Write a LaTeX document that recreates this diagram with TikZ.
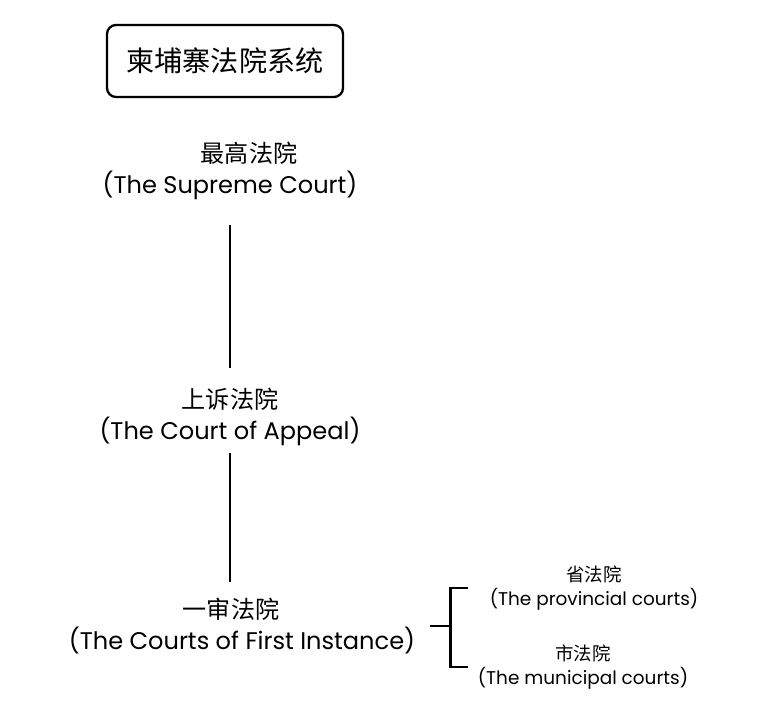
\documentclass[tikz,border=0pt]{standalone}
\usepackage{fontspec}
\setmainfont{Poppins}
\newfontfamily\cjk{Noto Sans CJK SC}
\usepackage{tikz}
\usetikzlibrary{positioning,calc}

\begin{document}
\begin{tikzpicture}[node distance=1.4cm,on grid]
\tikzstyle{court}=[align=center, font=\fontsize{13.7}{18}\selectfont]
\tikzstyle{sub}=[align=center, font=\fontsize{10.5}{14}\selectfont]
\tikzstyle{link}=[line width=1.7pt]
\useasboundingbox (0,0) rectangle (15.16,14.4);
\node[draw, line width=1.3pt, rounded corners=0.18cm, minimum width=4.72cm, minimum height=1.44cm, font=\fontsize{16}{18}\selectfont] (title) at (4.5,13.18) {\cjk 柬埔寨法院系统};
\node[court, below right=2.2cm and 0.1cm of title] (sup) {\hspace*{0.76cm}{\cjk 最高法院}\\(The Supreme Court)};
\node[court, below=4.92cm of sup] (app) {{\cjk 上诉法院}\\(The Court of Appeal)};
\node[court, below right=4.18cm and 0.24cm of app] (inst) {{\cjk 一审法院}\hspace*{0.44cm}\\(The Courts of First Instance)};
\node[sub, above right=0.76cm and 7.04cm of inst] (prov) {{\cjk 省法院}\\(The provincial courts)};
\node[sub, below left=1.58cm and 0.22cm of prov] (muni) {{\cjk 市法院}\\(The municipal courts)};
\coordinate[right=3.76cm of inst] (stub);
\coordinate[right=0.4cm of stub] (brk);

\draw[link, shorten <=1.08cm, shorten >=0.98cm] (sup.center) -- (app.center);
\draw[link, shorten <=0.72cm, shorten >=0.88cm] (app.center) -- (app.center |- inst.center);
\draw[link] (stub) -- (brk);
\draw[link] ($(brk |- prov)+(0.36,0)$) -- (brk |- prov) -- (brk |- muni) -- ++(0.36,0);
\end{tikzpicture}
\end{document}
